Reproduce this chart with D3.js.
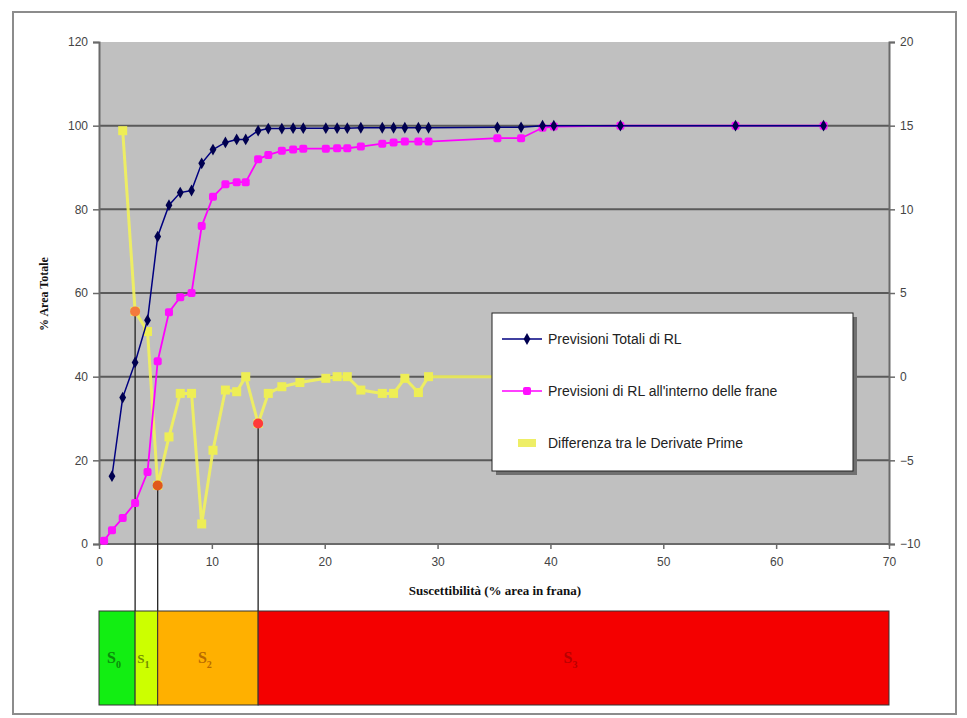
<!DOCTYPE html>
<html>
<head>
<meta charset="utf-8">
<script src="https://cdn.jsdelivr.net/npm/d3@7"></script>
<style>
  body { margin: 0; background: #ffffff; }
  svg { display: block; }
</style>
</head>
<body>
<script>
// ---------------- DATA ----------------
const xTicks = [0, 10, 20, 30, 40, 50, 60, 70];
const yLeftTicks = [0, 20, 40, 60, 80, 100, 120];
const yRightTicks = [-10, -5, 0, 5, 10, 15, 20];

const seriesNames = [
  "Previsioni Totali di RL",
  "Previsioni di RL all'interno delle frane",
  "Differenza tra le Derivate Prime"
];

const xTot = [1.15, 2.1, 3.2, 4.3, 5.2, 6.2, 7.2, 8.2, 9.1, 10.1, 11.2, 12.2, 13.0, 14.1, 15.0, 16.2, 17.2, 18.1, 20.1, 21.1, 22.0, 23.2, 25.1, 26.1, 27.1, 28.3, 29.2, 35.3, 37.4, 39.3, 40.3, 46.2, 56.4, 64.2];
const yTot = [16.2, 35, 43.4, 53.5, 73.5, 81, 84, 84.5, 91, 94.3, 96, 96.7, 96.7, 98.8, 99.3, 99.3, 99.4, 99.4, 99.4, 99.4, 99.4, 99.5, 99.5, 99.5, 99.5, 99.5, 99.5, 99.6, 99.6, 100, 100, 100, 100, 100];

const xFr = [0.45, 1.15, 2.1, 3.2, 4.3, 5.2, 6.2, 7.2, 8.2, 9.1, 10.1, 11.2, 12.2, 13.0, 14.1, 15.0, 16.2, 17.2, 18.1, 20.1, 21.1, 22.0, 23.2, 25.1, 26.1, 27.1, 28.3, 29.2, 35.3, 37.4, 39.3, 40.3, 46.2, 56.4, 64.2];
const yFr = [0.8, 3.3, 6.2, 9.8, 17.2, 43.7, 55.4, 59, 60, 76, 83, 86, 86.5, 86.5, 92, 93, 94, 94.3, 94.5, 94.5, 94.6, 94.6, 95, 95.7, 96, 96.2, 96.2, 96.2, 97, 97, 99.5, 99.8, 100, 100, 100];

const xDiff = [2.1, 3.2, 4.3, 5.2, 6.2, 7.2, 8.2, 9.1, 10.1, 11.2, 12.2, 13.0, 14.1, 15.0, 16.2, 17.8, 20.1, 21.1, 22.0, 23.2, 25.1, 26.1, 27.1, 28.3, 29.2, 35.3, 37.4, 39.3, 40.3, 46.2, 56.4, 64.2];
const yDiff = [14.7, 3.9, 2.7, -6.5, -3.6, -1.0, -1.0, -8.8, -4.4, -0.8, -0.9, 0.0, -2.8, -1.0, -0.6, -0.35, -0.1, 0, 0, -0.8, -1.0, -1.0, -0.1, -0.95, 0, 0, 0, 0, 0, 0, 0, 0];

// highlighted points on the difference curve (x, right-axis value, colour)
const keyX = [3.2, 5.2, 14.1];
const keyY = [3.9, -6.5, -2.8];
const keyColors = ["#f47a3c", "#e0581c", "#ff3a3a"];

// susceptibility classes (bar under the chart)
const zoneBounds = [0, 3.2, 5.2, 14.1, 70];
const zoneLabels = ["0", "1", "2", "3"];
const zoneFill = ["#12ee12", "#ccff00", "#ffb000", "#f40000"];
const zoneText = ["#0a8a0a", "#6f8a00", "#b86a00", "#b80000"];

const xTitle = "Suscettibilità (% area in frana)";
const yTitle = "% Area Totale";

// ---------------- CHART ----------------
const W = 967, H = 718;
const svg = d3.select("body").append("svg").attr("width", W).attr("height", H);

// outer frame
svg.append("rect").attr("x", 13).attr("y", 12).attr("width", 943).attr("height", 702)
  .attr("fill", "#fff").attr("stroke", "#8c8c8c").attr("stroke-width", 2);

const x = d3.scaleLinear().domain([0, 70]).range([99, 889]);
const yL = d3.scaleLinear().domain([0, 120]).range([544, 42]);
const yR = d3.scaleLinear().domain([-10, 20]).range([544, 42]);

// plot area
svg.append("rect").attr("x", x(0)).attr("y", yL(120))
  .attr("width", x(70) - x(0)).attr("height", yL(0) - yL(120))
  .attr("fill", "#c0c0c0");

// gridlines
svg.append("g").selectAll("line").data(yLeftTicks.filter(d => d > 0 && d < 120)).join("line")
  .attr("x1", x(0)).attr("x2", x(70))
  .attr("y1", d => yL(d)).attr("y2", d => yL(d))
  .attr("stroke", "#5a5a5a").attr("stroke-width", 2);

// axes
const axisFont = "Liberation Sans, Arial, sans-serif";
const gL = svg.append("g").attr("transform", `translate(${x(0)},0)`)
  .call(d3.axisLeft(yL).tickValues(yLeftTicks).tickSize(6).tickPadding(5));
const gR = svg.append("g").attr("transform", `translate(${x(70)},0)`)
  .call(d3.axisRight(yR).tickValues(yRightTicks).tickSize(6).tickPadding(5));
const gX = svg.append("g").attr("transform", `translate(0,${yL(0)})`)
  .call(d3.axisBottom(x).tickValues(xTicks).tickSize(5).tickPadding(8));
[gL, gR, gX].forEach(g => {
  g.selectAll("path").attr("stroke", "#6a6a6a").attr("stroke-width", 2);
  g.selectAll("line").attr("stroke", "#6a6a6a").attr("stroke-width", 1.5);
  g.selectAll("text").attr("font-family", axisFont).attr("font-size", 12).attr("fill", "#444");
});
gX.select("path").attr("d", `M${x(0)},0H${x(70)}`);

// titles
svg.append("text").attr("x", 495).attr("y", 595).attr("text-anchor", "middle")
  .attr("font-family", "Liberation Serif, Times New Roman, serif").attr("font-weight", "bold")
  .attr("font-size", 13).attr("fill", "#111").text(xTitle);
svg.append("text").attr("transform", "translate(48,294) rotate(-90)").attr("text-anchor", "middle")
  .attr("font-family", "Liberation Serif, Times New Roman, serif").attr("font-weight", "bold")
  .attr("font-size", 12).attr("fill", "#111").text(yTitle);

// key vertical lines (from highlighted points down to the zone bar)
const barTop = 611, barBottom = 705;
svg.append("g").selectAll("line").data(keyX).join("line")
  .attr("x1", d => x(d)).attr("x2", d => x(d))
  .attr("y1", (d, i) => yR(keyY[i])).attr("y2", barTop)
  .attr("stroke", "#222").attr("stroke-width", 1.3);

// difference series (yellow, right axis)
const diff = xDiff.map((d, i) => [d, yDiff[i]]);
svg.append("path").datum(diff)
  .attr("d", d3.line().x(d => x(d[0])).y(d => yR(d[1])))
  .attr("fill", "none").attr("stroke", "#f2f25a").attr("stroke-width", 3).attr("opacity", 0.9);
svg.append("g").selectAll("rect").data(diff).join("rect")
  .attr("x", d => x(d[0]) - 4.5).attr("y", d => yR(d[1]) - 4.5)
  .attr("width", 9).attr("height", 9).attr("fill", "#eeee55");

// Totali (navy, left axis)
const tot = xTot.map((d, i) => [d, yTot[i]]);
const fr = xFr.map((d, i) => [d, yFr[i]]);

svg.append("path").datum(fr)
  .attr("d", d3.line().x(d => x(d[0])).y(d => yL(d[1])))
  .attr("fill", "none").attr("stroke", "#ff00ff").attr("stroke-width", 1.8);
svg.append("g").selectAll("rect").data(fr).join("rect")
  .attr("x", d => x(d[0]) - 4).attr("y", d => yL(d[1]) - 4)
  .attr("width", 8).attr("height", 8).attr("rx", 2).attr("fill", "#ff10ff");

svg.append("path").datum(tot)
  .attr("d", d3.line().x(d => x(d[0])).y(d => yL(d[1])))
  .attr("fill", "none").attr("stroke", "#000080").attr("stroke-width", 1.5);
svg.append("g").selectAll("path").data(tot).join("path")
  .attr("d", d3.symbol(d3.symbolDiamond, 40))
  .attr("transform", d => `translate(${x(d[0])},${yL(d[1])})`)
  .attr("fill", "#000050");

// highlighted points
svg.append("g").selectAll("circle").data(keyX).join("circle")
  .attr("cx", d => x(d)).attr("cy", (d, i) => yR(keyY[i])).attr("r", 5)
  .attr("fill", (d, i) => keyColors[i]);

// legend
const lg = svg.append("g");
lg.append("rect").attr("x", 496).attr("y", 317).attr("width", 361).attr("height", 158).attr("fill", "#707070");
lg.append("rect").attr("x", 492).attr("y", 313).attr("width", 361).attr("height", 158)
  .attr("fill", "#fff").attr("stroke", "#222").attr("stroke-width", 1);
const legY = [339, 391, 443];
// entry 1
lg.append("line").attr("x1", 502).attr("x2", 542).attr("y1", legY[0]).attr("y2", legY[0])
  .attr("stroke", "#000080").attr("stroke-width", 1.5);
lg.append("path").attr("d", d3.symbol(d3.symbolDiamond, 40))
  .attr("transform", `translate(527,${legY[0]})`).attr("fill", "#000050");
// entry 2
lg.append("line").attr("x1", 502).attr("x2", 542).attr("y1", legY[1]).attr("y2", legY[1])
  .attr("stroke", "#ff00ff").attr("stroke-width", 1.5);
lg.append("rect").attr("x", 523).attr("y", legY[1] - 4).attr("width", 8).attr("height", 8)
  .attr("rx", 2).attr("fill", "#ff10ff");
// entry 3
lg.append("rect").attr("x", 518).attr("y", legY[2] - 4).attr("width", 18).attr("height", 8)
  .attr("fill", "#eeee66");
lg.selectAll("text.lt").data(seriesNames).join("text").attr("class", "lt")
  .attr("x", 548).attr("y", (d, i) => legY[i] + 5)
  .attr("font-family", "Liberation Sans, Arial, sans-serif").attr("font-size", 14)
  .attr("fill", "#222").text(d => d);

// zone bar
const zones = zoneLabels.map((l, i) => ({ a: zoneBounds[i], b: zoneBounds[i + 1], l, i }));
const zg = svg.append("g");
zg.selectAll("rect").data(zones).join("rect")
  .attr("x", d => x(d.a)).attr("y", barTop)
  .attr("width", d => x(d.b) - x(d.a)).attr("height", barBottom - barTop)
  .attr("fill", d => zoneFill[d.i]).attr("stroke", "#333").attr("stroke-width", 1);
const zt = zg.selectAll("text").data(zones).join("text")
  .attr("x", d => (x(d.a) + x(d.b)) / 2 - 3).attr("y", 663)
  .attr("text-anchor", "middle")
  .attr("font-family", "Liberation Serif, Times New Roman, serif").attr("font-weight", "bold")
  .attr("font-size", d => d.i === 1 ? 13 : 16).attr("fill", d => zoneText[d.i]);
zt.append("tspan").text("S");
zt.append("tspan").attr("dy", 5).attr("font-size", 10).text(d => d.l);
</script>
</body>
</html>
